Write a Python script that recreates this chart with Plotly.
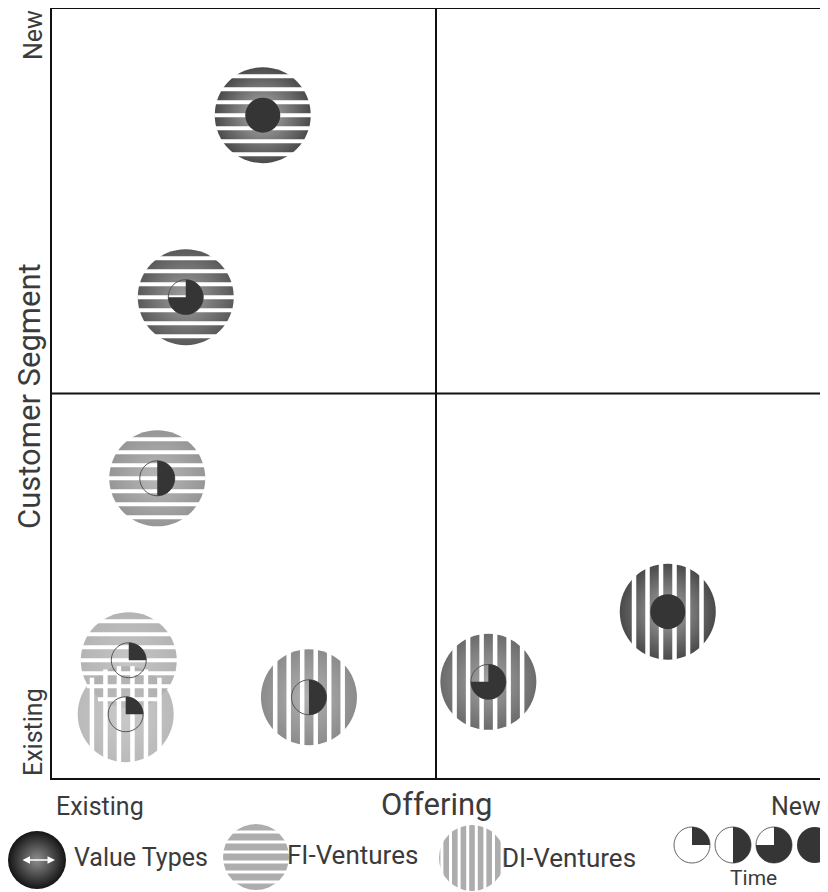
import numpy as np
import plotly.graph_objects as go

# ---------------- data ----------------
venture_x = [2.75, 1.75, 1.38, 1.01, 0.97, 3.35, 5.68, 8.01]      # Offering (0 = existing, 10 = new)
venture_y = [8.61, 6.25, 3.90, 1.54, 0.84, 1.06, 1.26, 2.17]      # Customer segment (0 = existing, 10 = new)
venture_type = ["FI", "FI", "FI", "FI", "DI", "DI", "DI", "DI"]
venture_time = [4, 3, 2, 1, 1, 2, 3, 4]                            # quarters of the time pie
time_legend = [1, 2, 3, 4]
legend_labels = ["Value Types", "FI-Ventures", "DI-Ventures"]

# ---------------- style ----------------
OFF = 8                                        # page body margin
W, H = 828 - OFF, 892 - OFF
FX0, FX1, FY0, FY1 = 51, 821, 8, 779          # frame in screen pixels
KX = (FX1 - FX0) / 10.0
KY = (FY1 - FY0) / 10.0
edge_colors = ["#4b4b4b", "#5a5a5a", "#969696", "#b4b4b4", "#aeaeae", "#8c8c8c", "#6c6c6c", "#4a4a4a"]
center_colors = ["#b0b0b0", "#a0a0a0", "#b8b8b8", "#c6c6c6", "#c0c0c0", "#b0b0b0", "#a4a4a4", "#a6a6a6"]
opacities = [1, 1, 1, 1, 0.85, 1, 1, 1]
R_OUT = 48
R_IN = 17.5
DARK = "#353535"
TXT = "#3b3b3b"
FONT = "Roboto"

fig = go.Figure()

# venture circles (radial gradient)
fig.add_trace(go.Scatter(
    x=venture_x, y=venture_y, mode="markers", hoverinfo="skip", showlegend=False,
    marker=dict(size=2 * R_OUT, color=edge_colors, opacity=opacities,
                gradient=dict(type="radial", color=center_colors), line=dict(width=0))))

shapes = []


def stripes(cx, cy, r, sx, sy, orient, period, gap, centered_gap):
    out = []
    if centered_gap:
        offs = [k * period for k in range(-10, 11)]
    else:
        offs = [(k + 0.5) * period for k in range(-10, 10)]
    for d in offs:
        if abs(d) > r - 1.5:
            continue
        inner = max(abs(d) - gap / 2.0, 0)
        h = np.sqrt(max(r * r - inner * inner, 0)) + 0.3
        if orient == "h":
            y = cy + d / sy
            out.append(dict(type="line", xref=xr, yref=yr, x0=cx - h / sx, x1=cx + h / sx, y0=y, y1=y,
                            line=dict(color="white", width=gap)))
        else:
            x = cx + d / sx
            out.append(dict(type="line", xref=xr, yref=yr, x0=x, x1=x, y0=cy - h / abs(sy), y1=cy + h / abs(sy),
                            line=dict(color="white", width=gap)))
    return out


def pie(cx, cy, r, k, sx, sy, outline="#555555"):
    out = []
    if k >= 4:
        out.append(dict(type="circle", xref=xr, yref=yr, x0=cx - r / sx, x1=cx + r / sx,
                        y0=cy - r / abs(sy), y1=cy + r / abs(sy), fillcolor=DARK, line=dict(width=0)))
        return out
    out.append(dict(type="circle", xref=xr, yref=yr, x0=cx - r / sx, x1=cx + r / sx,
                    y0=cy - r / abs(sy), y1=cy + r / abs(sy), line=dict(color=outline, width=1)))
    ang = np.radians(np.linspace(90, 90 - 90 * k, 30 * k))
    pts = [(cx, cy)] + [(cx + r * np.cos(a) / sx, cy + r * np.sin(a) / sy) for a in ang]
    path = "M " + " L ".join(f"{px:.5f},{py:.5f}" for px, py in pts) + " Z"
    out.append(dict(type="path", xref=xr, yref=yr, path=path, fillcolor=DARK, line=dict(width=0)))
    return out


# main-chart decorations
xr, yr = "x", "y"
for i in range(len(venture_x)):
    if venture_type[i] == "FI":
        shapes += stripes(venture_x[i], venture_y[i], R_OUT, KX, KY, "h", 13.0, 4.0, True)
    else:
        shapes += stripes(venture_x[i], venture_y[i], R_OUT, KX, KY, "v", 13.5, 4.5, False)
for i in range(len(venture_x)):
    shapes += pie(venture_x[i], venture_y[i], R_IN, venture_time[i], KX, KY)

# frame and quadrant lines
shapes.append(dict(type="rect", xref="x", yref="y", x0=0, x1=10.3, y0=0, y1=10,
                   line=dict(color="#111111", width=2)))
shapes.append(dict(type="line", xref="x", yref="y", x0=5, x1=5, y0=0, y1=10, line=dict(color="#111111", width=2)))
shapes.append(dict(type="line", xref="x", yref="y", x0=0, x1=10.3, y0=5, y1=5, line=dict(color="#111111", width=2)))

# ---------------- legend (screen-pixel overlay axes) ----------------
xr, yr = "x2", "y2"
leg_cx = [37, 256, 472]
leg_cy = [860, 857, 858]
leg_r = [29, 33, 33]
fig.add_trace(go.Scatter(
    x=[leg_cx[0]], y=[leg_cy[0]], xaxis="x2", yaxis="y2", mode="markers", hoverinfo="skip", showlegend=False,
    marker=dict(size=2 * leg_r[0], color="#141414", gradient=dict(type="radial", color="#8e8e8e"),
                line=dict(width=0))))
fig.add_trace(go.Scatter(
    x=leg_cx[1:], y=leg_cy[1:], xaxis="x2", yaxis="y2", mode="markers", hoverinfo="skip", showlegend=False,
    marker=dict(size=[2 * r for r in leg_r[1:]], color="#8a8a8a", line=dict(width=0))))
shapes += stripes(leg_cx[1], leg_cy[1], leg_r[1], 1, -1, "h", 10.0, 3.2, False)
shapes += stripes(leg_cx[2], leg_cy[2], leg_r[2], 1, -1, "v", 8.6, 3.0, False)

pie_cx = [692, 733, 774, 815]
for k, cx in zip(time_legend, pie_cx):
    shapes += pie(cx, 845, 18, k, 1, -1, outline="#666666")

annotations = []


def txt(s, x, y, size, xanchor="center", angle=0):
    annotations.append(dict(text=s, x=x, y=y, xref="x2", yref="y2", showarrow=False, xanchor=xanchor,
                            yanchor="middle", textangle=angle, borderpad=0,
                            font=dict(family=FONT, size=size, color=TXT)))


txt("Existing", 55, 806, 25, "left")
txt("Offering", 437, 804, 31)
txt("New", 822, 806, 25, "right")
txt(legend_labels[0], 73, 857, 25, "left")
txt(legend_labels[1], 286, 855, 26, "left")
txt(legend_labels[2], 501, 858, 26, "left")
txt("Time", 753, 878, 21)
txt("New", 33, 35, 25, angle=-90)
txt("Customer Segment", 29, 396, 31, angle=-90)
txt("Existing", 33, 732, 25, angle=-90)

# double arrow in the value-type sphere
annotations.append(dict(x=55, y=860, ax=21, ay=860, xref="x2", yref="y2", axref="x2", ayref="y2",
                        text="", showarrow=True, arrowhead=2, arrowside="end+start", arrowwidth=1.5,
                        arrowsize=1, arrowcolor="white"))

fig.update_layout(
    width=W, height=H, autosize=False, margin=dict(l=0, r=0, t=0, b=0),
    paper_bgcolor="white", plot_bgcolor="white", showlegend=False,
    shapes=shapes, annotations=annotations,
    xaxis=dict(range=[(OFF - FX0) / KX, (828 - FX0) / KX], visible=False, fixedrange=True),
    yaxis=dict(range=[-(892 - FY1) / KY, (FY1 - OFF) / KY], visible=False, fixedrange=True),
    xaxis2=dict(range=[OFF, 828], overlaying="x", visible=False, fixedrange=True),
    yaxis2=dict(range=[892, OFF], overlaying="y", visible=False, fixedrange=True),
)

fig.write_html("out.html")
